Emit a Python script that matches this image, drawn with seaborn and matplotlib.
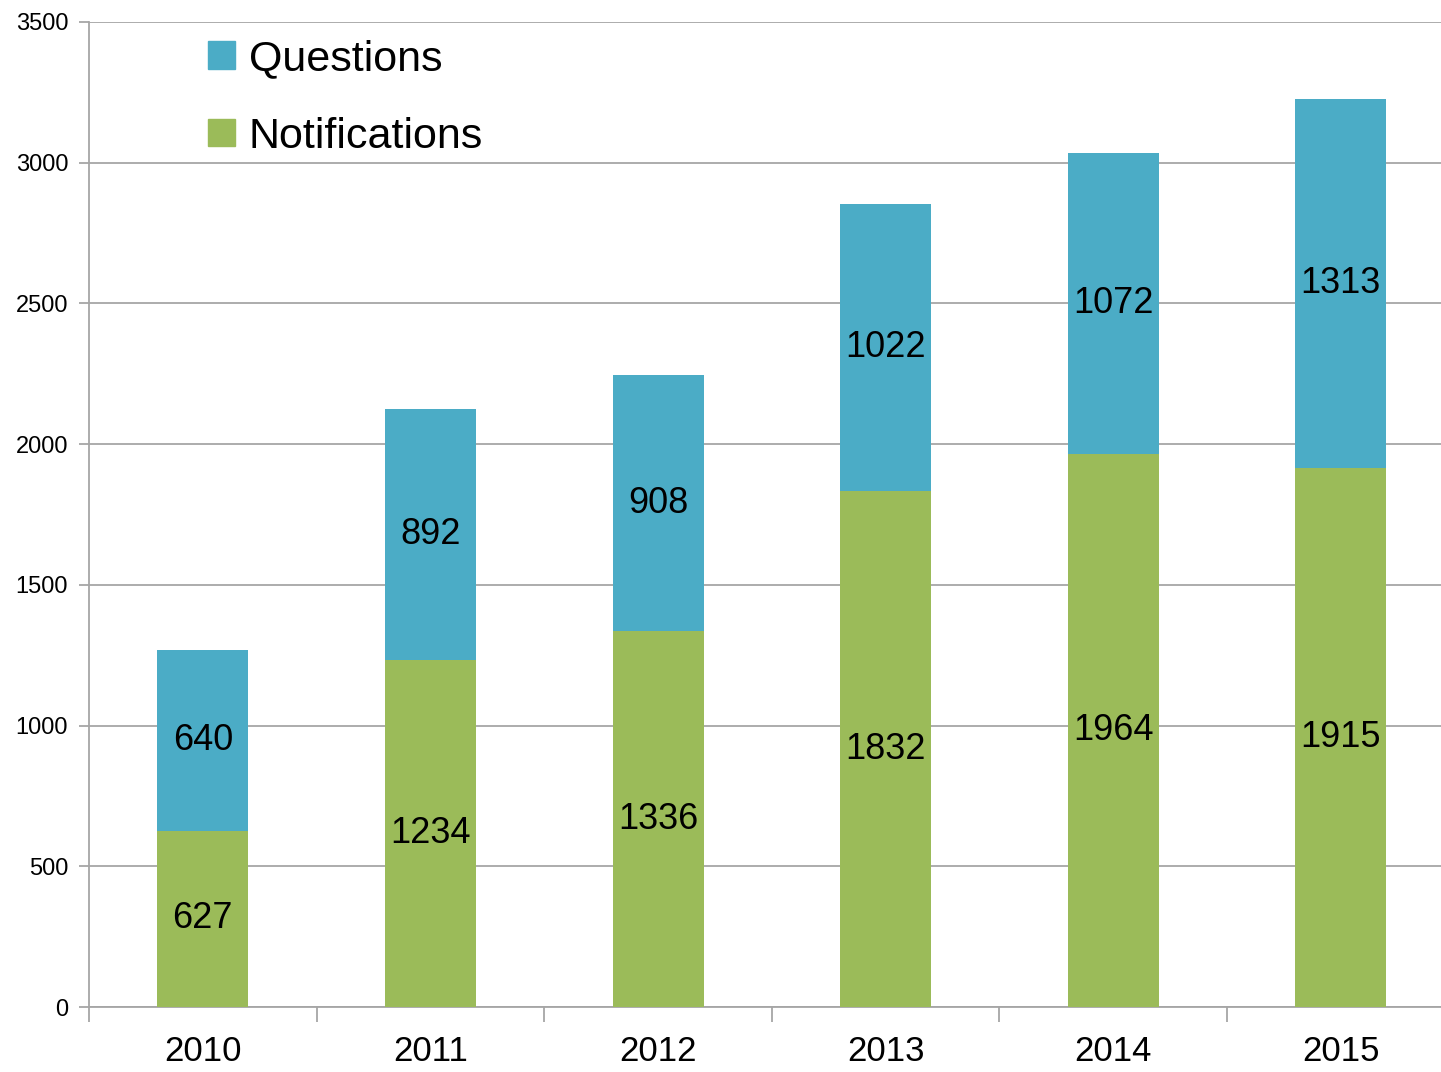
import matplotlib
matplotlib.use("Agg")
import matplotlib.pyplot as plt
import seaborn as sns
import pandas as pd
from matplotlib.patches import Patch
from matplotlib.ticker import MultipleLocator, FixedLocator

# ----------------------------
# DATA
# ----------------------------
years = ["2010", "2011", "2012", "2013", "2014", "2015"]
notifications = [627, 1234, 1336, 1832, 1964, 1915]
questions = [640, 892, 908, 1022, 1072, 1313]

BLUE = "#4BACC6"
GREEN = "#9BBB59"
GRID = "#A6A6A6"

sns.set_style("white")
plt.rcParams["font.family"] = ["Liberation Sans Narrow", "Liberation Sans", "DejaVu Sans"]
plt.rcParams["text.color"] = "black"
plt.rcParams["xtick.color"] = "black"
plt.rcParams["ytick.color"] = "black"

df = pd.DataFrame({"year": years, "notifications": notifications, "questions": questions})
df["total"] = df["notifications"] + df["questions"]

fig = plt.figure(figsize=(14.41, 10.72), dpi=100)
ax = fig.add_axes([0.0618, 0.0606, 0.9382, 0.9189])

# stacked bars: totals in blue, notifications in green on top
sns.barplot(data=df, x="year", y="total", color=BLUE, saturation=1, width=0.4,
            linewidth=0, ax=ax, zorder=2)
sns.barplot(data=df, x="year", y="notifications", color=GREEN, saturation=1, width=0.4,
            linewidth=0, ax=ax, zorder=3)

# value labels in the middle of each segment
for i, row in df.iterrows():
    ax.text(i, row["notifications"] / 2, str(row["notifications"]), ha="center", va="center",
            fontsize=26, color="black", zorder=4)
    ax.text(i, row["notifications"] + row["questions"] / 2, str(row["questions"]), ha="center",
            va="center", fontsize=26, color="black", zorder=4)

# ----------------------------
# AXES STYLE
# ----------------------------
ax.set_ylim(0, 3500)
ax.set_xlim(-0.5, 5.44)
ax.yaxis.set_major_locator(MultipleLocator(500))
ax.grid(axis="y", color=GRID, linewidth=1.3, zorder=0)
ax.set_axisbelow(True)

for s in ["top", "right"]:
    ax.spines[s].set_visible(False)
for s in ["left", "bottom"]:
    ax.spines[s].set_color(GRID)
    ax.spines[s].set_linewidth(1.3)

ax.tick_params(axis="y", left=True, length=7, color=GRID, width=1.3, labelsize=17, pad=8)
ax.tick_params(axis="x", which="major", bottom=True, length=0, labelsize=25, pad=20)
ax.xaxis.set_minor_locator(FixedLocator([k - 0.5 for k in range(7)]))
ax.tick_params(axis="x", which="minor", bottom=True, length=11, color=GRID, width=1.3)

ax.set_xlabel("")
ax.set_ylabel("")

handles = [Patch(color=BLUE, label="Questions"), Patch(color=GREEN, label="Notifications")]
ax.legend(handles=handles, loc="upper left", bbox_to_anchor=(0.088, 0.983), frameon=False,
          borderpad=0, borderaxespad=0, fontsize=31, handlelength=0.62, handleheight=0.62,
          handletextpad=0.33, labelspacing=0.88)

fig.savefig("out.png", dpi=100)
